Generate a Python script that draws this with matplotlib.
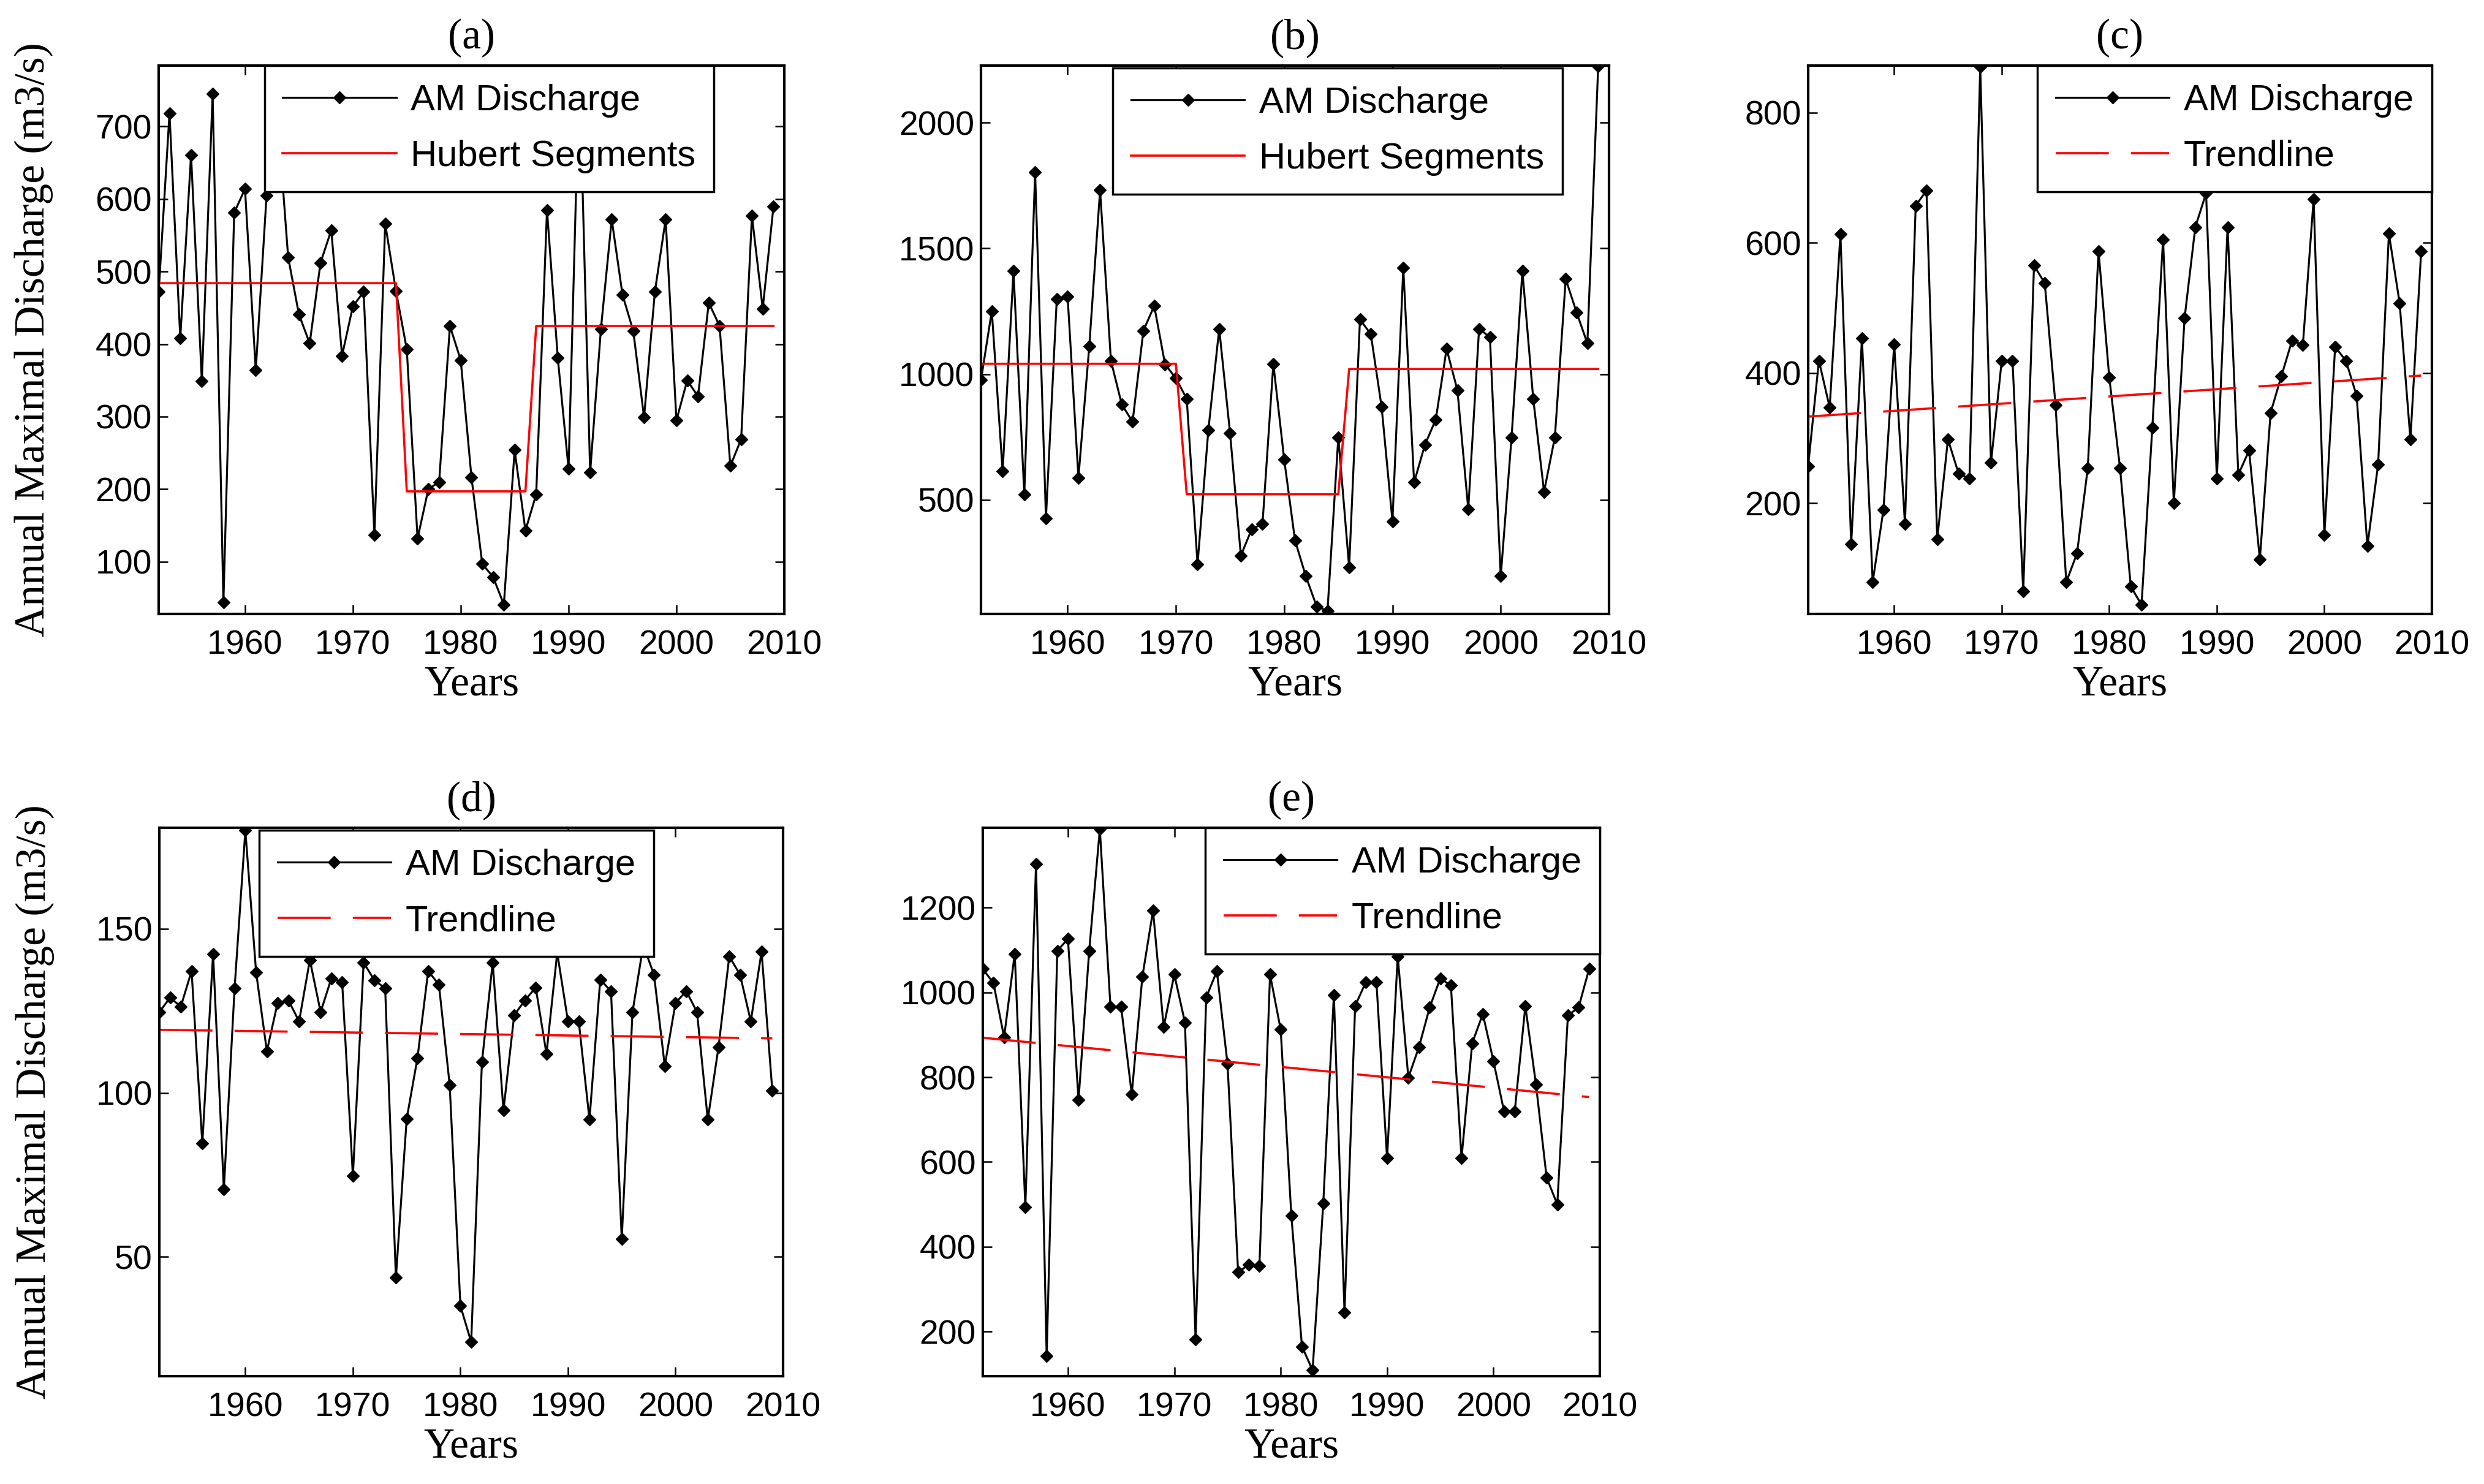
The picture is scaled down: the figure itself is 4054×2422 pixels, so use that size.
import numpy as np
import matplotlib
matplotlib.use("Agg")
import matplotlib.pyplot as plt

plt.rcParams['font.family'] = ['Liberation Sans', 'DejaVu Sans']

# annual maximum discharge, 1952-2009
years = np.arange(1952, 2010)

q_a = [472, 718, 408, 661, 349, 745, 44, 581, 614, 364,
       605, 720, 520, 441, 401, 512, 557, 384, 452, 472,
       137, 566, 473, 393, 132, 200, 210, 425, 378, 216,
       97, 79, 41, 254, 143, 193, 585, 381, 228, 780,
       223, 421, 572, 468, 418, 299, 472, 572, 295, 350,
       328, 457, 425, 232, 269, 577, 449, 590]
q_b = [976, 1251, 613, 1410, 522, 1802, 427, 1298, 1308, 588,
       1110, 1732, 1053, 880, 810, 1173, 1271, 1039, 983, 902,
       244, 778, 1180, 766, 278, 383, 405, 1041, 661, 339,
       196, 76, 58, 749, 232, 1217, 1159, 869, 415, 1422,
       569, 719, 819, 1100, 936, 463, 1180, 1147, 196, 749,
       1410, 902, 532, 749, 1378, 1246, 1122, 2225]
q_c = [257, 419, 347, 613, 137, 453, 79, 190, 444, 168,
       657, 680, 145, 298, 245, 238, 870, 262, 419, 419,
       65, 565, 538, 351, 79, 123, 254, 587, 393, 254,
       72, 44, 316, 605, 200, 484, 624, 676, 238, 624,
       244, 281, 114, 339, 395, 450, 443, 667, 151, 440,
       419, 365, 134, 260, 614, 507, 298, 587]
q_d = [124.6, 129, 126.3, 137.1, 84.5, 142.4, 70.5, 131.9, 180, 136.8,
       112.7, 127.4, 128.2, 121.8, 140.5, 124.6, 134.9, 133.8, 74.6, 139.7,
       134.3, 131.9, 43.6, 92, 110.5, 137.1, 133, 102.4, 35, 24,
       109.4, 139.7, 94.6, 123.7, 128.2, 132.1, 111.9, 142.7, 121.8, 121.8,
       91.8, 134.5, 131, 55.4, 124.6, 145, 136, 108.2, 127.4, 131,
       124.6, 91.8, 114, 141.6, 136, 121.8, 143, 100.7]
q_e = [1055, 1022, 894, 1091, 494, 1303, 143, 1098, 1126, 747,
       1098, 1385, 966, 966, 760, 1037, 1193, 918, 1042, 929,
       182, 988, 1050, 832, 340, 358, 355, 1042, 912, 474,
       165, 109, 502, 994, 245, 968, 1024, 1024, 609, 1085,
       799, 871, 964, 1033, 1016, 609, 880, 949, 838, 719,
       719, 968, 782, 563, 500, 946, 964, 1056]

# Hubert segmentation (a, b) and linear trend end points (c, d, e)
hub_a_years = [1952, 1974, 1975, 1986, 1987, 2009]
hub_a_vals = [484, 484, 197, 197, 425, 425]
hub_b_years = [1952, 1970, 1971, 1985, 1986, 2009]
hub_b_vals = [1041, 1041, 522, 522, 1020, 1020]
trend_years = [1952, 2009]
trend_c = [333, 396]
trend_d = [119.2, 116.6]
trend_e = [893, 753]

yticks_a = [100, 200, 300, 400, 500, 600, 700]
yticks_b = [500, 1000, 1500, 2000]
yticks_c = [200, 400, 600, 800]
yticks_d = [50, 100, 150]
yticks_e = [200, 400, 600, 800, 1000, 1200]
xticks = [1960, 1970, 1980, 1990, 2000, 2010]

W, H = 4055, 2422
fig = plt.figure(figsize=(W / 100, H / 100), dpi=100)


def px_axes(left, top, right, bottom):
    return fig.add_axes([left / W, 1 - bottom / H, (right - left) / W, (bottom - top) / H])


serif = ['Liberation Serif', 'DejaVu Serif']

panels = [
    ('(a)', px_axes(259, 107, 1280, 1002), q_a, hub_a_years, hub_a_vals, 'Hubert Segments', '-',
     yticks_a, (28, 784), 'upper left', (0.169, 1.0), True),
    ('(b)', px_axes(1601, 107, 2626, 1002), q_b, hub_b_years, hub_b_vals, 'Hubert Segments', '-',
     yticks_b, (46, 2227), 'upper left', (0.21, 0.995), False),
    ('(c)', px_axes(2951, 107, 3969, 1002), q_c, trend_years, trend_c, 'Trendline', '--',
     yticks_c, (30, 872), 'upper right', (1.0, 1.0), False),
    ('(d)', px_axes(260, 1351, 1278, 2246), q_d, trend_years, trend_d, 'Trendline', '--',
     yticks_d, (13.6, 180.8), 'upper left', (0.16, 0.995), True),
    ('(e)', px_axes(1604, 1351, 2611, 2246), q_e, trend_years, trend_e, 'Trendline', '--',
     yticks_e, (95, 1388), 'upper right', (1.0, 1.0), False),
]

for title, ax, q, ref_x, ref_y, ref_label, ref_ls, yt, ylim, loc, anchor, ylab in panels:
    ax.plot(years, q, color='black', lw=2.3, marker='D', ms=10, label='AM Discharge')
    if ref_ls == '--':
        ax.plot(ref_x, ref_y, color='red', lw=2.6, ls=(0, (24, 10)), label=ref_label)
    else:
        ax.plot(ref_x, ref_y, color='red', lw=2.6, label=ref_label)
    ax.set_xlim(1952, 2010)
    ax.set_ylim(*ylim)
    ax.set_xticks(xticks)
    ax.set_yticks(yt)
    ax.tick_params(direction='in', top=True, right=True, length=11, width=1.8,
                   labelsize=40)
    ax.tick_params(axis='x', pad=18)
    ax.tick_params(axis='y', pad=8)
    for s in ax.spines.values():
        s.set_linewidth(3)
    ax.set_title(title, fontsize=50, family=serif, pad=20)
    ax.set_xlabel('Years', fontsize=50, family=serif, labelpad=5)
    if ylab:
        ax.set_ylabel('Annual Maximal Discharge (m3/s)', fontsize=50, family=serif)
        ax.yaxis.set_label_coords(-0.168, 0.5)
    leg = ax.legend(loc=loc, bbox_to_anchor=anchor, borderaxespad=0, fontsize=43,
                    fancybox=False, framealpha=1, edgecolor='black', numpoints=1,
                    handlelength=3.1, handletextpad=0.4, borderpad=0.5, labelspacing=0.6)
    leg.get_frame().set_linewidth(2.5)

fig.savefig('out.png', dpi=100)
